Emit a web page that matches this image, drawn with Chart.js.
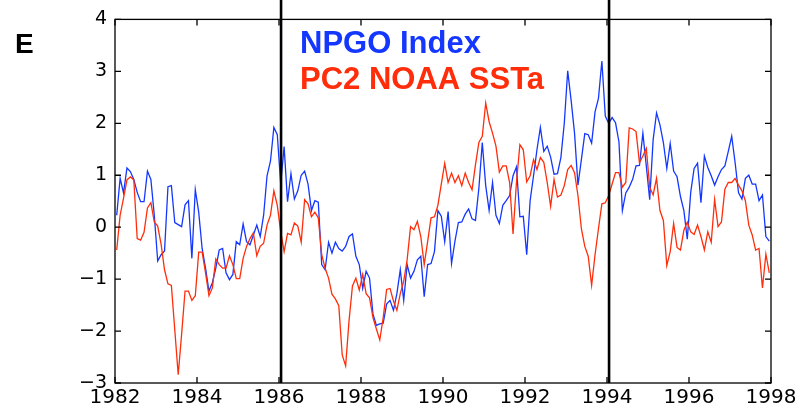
<!DOCTYPE html>
<html>
<head>
<meta charset="utf-8">
<script src="https://cdn.jsdelivr.net/npm/chart.js@4.4.1/dist/chart.umd.min.js"></script>
<style>
  html, body { margin: 0; padding: 0; background: #fff; }
  #wrap { width: 809px; height: 409px; }
</style>
</head>
<body>
<div id="wrap"><canvas id="grafico" width="809" height="409"></canvas></div>
<script>
// --- DATOS (mensuales, ene 1982 - dic 1997) ---
const START_YEAR = 1982;
const X_TICKS = [1982, 1984, 1986, 1988, 1990, 1992, 1994, 1996, 1998];
const Y_TICKS = [-3, -2, -1, 0, 1, 2, 3, 4];
const MARKER_YEARS = [1986.05, 1994.05];
const LABEL_NPGO = 'NPGO Index';
const LABEL_PC2 = 'PC2 NOAA SSTa';
const PANEL_LETTER = 'E';

const npgo = [
  0.23, 0.94, 0.66, 1.14, 1.07, 0.92, 0.67, 0.49, 0.49, 1.08, 0.92, 0.23,
  -0.65, -0.53, -0.46, 0.78, 0.80, 0.09, 0.05, 0.01, 0.43, 0.51, -0.60, 0.72,
  0.29, -0.41, -0.79, -1.23, -1.07, -0.79, -0.44, -0.41, -0.88, -1.01, -0.91, -0.28,
  -0.34, 0.06, -0.28, -0.34, -0.15, 0.04, -0.18, 0.23, 0.99, 1.27, 1.92, 1.78,
  0.83, 1.55, 0.49, 1.03, 0.54, 0.70, 1.00, 1.08, 0.83, 0.32, 0.51, 0.48,
  -0.72, -0.82, -0.29, -0.50, -0.29, -0.41, -0.46, -0.37, -0.18, -0.13, -0.56, -0.72,
  -1.18, -0.85, -0.98, -1.67, -1.89, -1.86, -1.85, -1.48, -1.41, -1.60, -1.28, -0.82,
  -1.41, -0.72, -0.98, -0.85, -0.63, -0.56, -1.34, -0.72, -0.70, -0.47, 0.32, 0.21,
  -0.28, 0.30, -0.70, -0.27, 0.09, 0.10, 0.25, 0.35, 0.16, 0.13, 0.75, 1.63,
  0.80, 0.32, 0.86, 0.23, 0.07, 0.42, 0.51, 0.61, 0.99, 1.16, 0.20, 0.21,
  -0.53, 0.51, 0.99, 1.49, 1.92, 1.46, 1.56, 1.35, 1.02, 1.03, 1.34, 2.00,
  3.01, 2.44, 1.81, 0.81, 1.30, 1.80, 1.78, 1.62, 2.22, 2.48, 3.20, 2.14,
  2.00, 2.11, 2.01, 1.64, 0.32, 0.66, 0.77, 0.92, 1.18, 1.19, 1.81, 1.18,
  0.53, 1.68, 2.20, 1.97, 1.63, 1.13, 1.61, 1.08, 0.97, 0.59, 0.32, -0.23,
  0.67, 1.13, 1.23, 0.47, 1.37, 1.15, 0.99, 0.81, 0.97, 1.11, 1.18, 1.46,
  1.75, 1.24, 0.66, 0.54, 0.94, 1.00, 0.83, 0.83, 0.51, 0.62, -0.18, -0.27
];

const pc2 = [
  -0.44, 0.23, 0.56, 0.91, 0.97, 0.91, -0.22, -0.25, -0.10, 0.37, 0.47, 0.10,
  0.02, -0.33, -0.82, -1.09, -1.12, -1.98, -2.84, -2.06, -1.23, -1.23, -1.41, -1.32,
  -0.48, -0.48, -0.88, -1.32, -1.17, -0.61, -0.72, -0.79, -0.79, -0.55, -0.72, -0.99,
  -0.99, -0.60, -0.37, -0.22, -0.11, -0.55, -0.37, -0.31, 0.04, 0.23, 0.70, 0.42,
  -0.09, -0.47, -0.12, -0.15, 0.08, 0.02, -0.29, 0.53, 0.45, 0.20, 0.29, 0.18,
  -0.53, -0.79, -0.98, -1.29, -1.38, -1.51, -2.46, -2.67, -1.80, -1.13, -0.98, -1.21,
  -0.91, -1.28, -1.36, -1.74, -1.96, -2.17, -1.74, -1.20, -1.18, -1.42, -1.60, -1.28,
  -1.04, -0.63, 0.01, -0.05, 0.11, -0.18, -0.72, -0.28, 0.18, 0.20, 0.42, 0.83,
  1.23, 0.86, 1.04, 0.86, 0.99, 0.80, 1.04, 0.86, 0.72, 1.20, 1.63, 1.75,
  2.39, 2.03, 1.81, 1.56, 1.06, 1.18, 1.18, 0.86, -0.13, 0.86, 1.59, 1.49,
  0.87, 0.99, 1.30, 1.11, 1.34, 1.25, 0.86, 0.40, 0.92, 0.58, 0.62, 0.80,
  1.11, 1.19, 1.05, 0.61, -0.03, -0.37, -0.56, -1.12, -0.53, -0.03, 0.45, 0.47,
  0.61, 0.83, 1.05, 1.05, 0.77, 0.86, 1.91, 1.89, 1.84, 1.24, 1.37, 1.52,
  0.77, 0.62, 0.94, 0.32, 0.13, -0.74, -0.47, 0.07, -0.39, -0.44, -0.06, 0.10,
  -0.09, -0.14, 0.04, -0.18, -0.44, -0.09, -0.29, 0.53, 0.01, 0.10, 0.73, 0.86,
  0.86, 0.94, 0.81, 0.70, 0.51, 0.04, -0.15, -0.44, -0.41, -1.17, -0.52, -0.88
];

const AZUL = '#1437ff';
const ROJO = '#ff2d0a';
const FUENTE = '"Liberation Sans", Arial, Helvetica, sans-serif';
const FUENTE_EJES = '"DejaVu Sans", "Liberation Sans", sans-serif';

// mitad de cada mes
const aPuntos = serie => serie.map((v, i) => ({ x: START_YEAR + (i + 0.5) / 12, y: v }));

// --- caja, marcas hacia adentro, lineas verticales y textos ---
const marcoPlugin = {
  id: 'marco',
  afterDraw(chart) {
    const { ctx, chartArea: a, scales } = chart;
    ctx.save();
    ctx.strokeStyle = '#000';
    ctx.lineWidth = 1.3;
    ctx.strokeRect(a.left, a.top, a.right - a.left, a.bottom - a.top);

    const largo = 6;
    ctx.beginPath();
    X_TICKS.forEach(t => {
      const px = scales.x.getPixelForValue(t);
      ctx.moveTo(px, a.bottom); ctx.lineTo(px, a.bottom - largo);
      ctx.moveTo(px, a.top); ctx.lineTo(px, a.top + largo);
    });
    Y_TICKS.forEach(t => {
      const py = scales.y.getPixelForValue(t);
      ctx.moveTo(a.left, py); ctx.lineTo(a.left + largo, py);
      ctx.moveTo(a.right, py); ctx.lineTo(a.right - largo, py);
    });
    ctx.stroke();

    ctx.lineWidth = 2.6;
    ctx.beginPath();
    MARKER_YEARS.forEach(yr => {
      const px = scales.x.getPixelForValue(yr);
      ctx.moveTo(px, 0); ctx.lineTo(px, a.bottom);
    });
    ctx.stroke();

    ctx.textBaseline = 'alphabetic';
    ctx.textAlign = 'left';
    ctx.font = 'bold 31px ' + FUENTE;
    ctx.fillStyle = AZUL;
    ctx.fillText(LABEL_NPGO, 300, 53);
    ctx.fillStyle = ROJO;
    ctx.fillText(LABEL_PC2, 300, 89);
    ctx.fillStyle = '#000';
    ctx.font = 'bold 28px ' + FUENTE;
    ctx.fillText(PANEL_LETTER, 15, 53);
    ctx.restore();
  }
};

const ctx = document.getElementById('grafico').getContext('2d');

new Chart(ctx, {
  type: 'line',
  data: {
    datasets: [
      {
        label: LABEL_PC2,
        data: aPuntos(pc2),
        borderColor: ROJO,
        borderWidth: 1.3,
        pointRadius: 0,
        tension: 0
      },
      {
        label: LABEL_NPGO,
        data: aPuntos(npgo),
        borderColor: AZUL,
        borderWidth: 1.3,
        pointRadius: 0,
        tension: 0
      }
    ]
  },
  options: {
    responsive: false,
    animation: false,
    layout: { padding: { top: 15, right: 38, left: 0, bottom: 0 } },
    plugins: {
      legend: { display: false },
      tooltip: { enabled: false }
    },
    scales: {
      x: {
        type: 'linear',
        min: 1982,
        max: 1998,
        afterBuildTicks: s => { s.ticks = X_TICKS.map(v => ({ value: v })); },
        afterFit: s => { s.height = 26; },
        ticks: {
          color: '#000',
          padding: 3,
          maxRotation: 0,
          font: { family: FUENTE_EJES, size: 20 },
          callback: v => String(v)
        },
        grid: { display: false, drawTicks: false },
        border: { display: false }
      },
      y: {
        min: -3,
        max: 4,
        afterBuildTicks: s => { s.ticks = Y_TICKS.map(v => ({ value: v })); },
        afterFit: s => { s.width = 115; },
        ticks: {
          color: '#000',
          padding: 8,
          font: { family: FUENTE_EJES, size: 19 },
          callback: v => v < 0 ? '\u2212' + Math.abs(v) : String(v)
        },
        grid: { display: false, drawTicks: false },
        border: { display: false }
      }
    }
  },
  plugins: [marcoPlugin]
});
</script>
</body>
</html>
